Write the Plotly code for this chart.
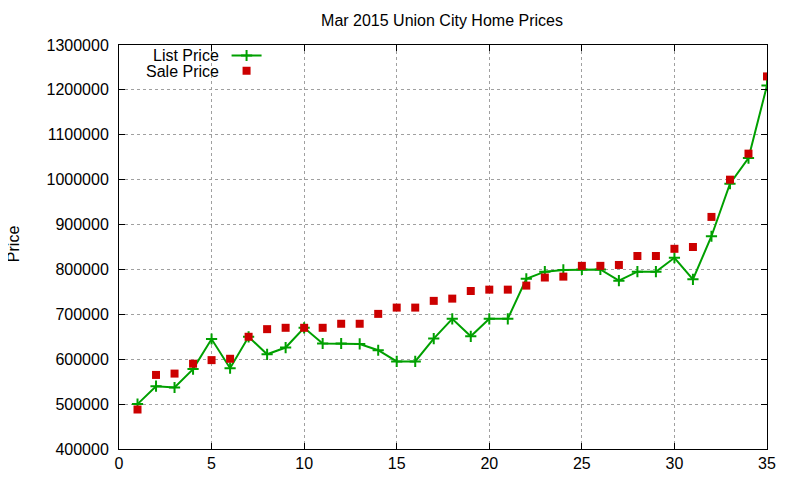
import plotly.graph_objects as go

# Mar 2015 Union City home sales, sorted by sale price
house = list(range(1, 36))
list_price = [500000, 540000, 537000, 578000, 645000, 580000, 650000, 611000, 626000, 670000,
              635000, 635000, 634000, 620000, 595000, 595000, 646000, 690000, 651000, 690000,
              690000, 779000, 795000, 799000, 800000, 800000, 775000, 795000, 795000, 826000,
              778000, 874000, 991000, 1048000, 1210000]
sale_price = [488000, 565000, 568000, 590000, 598000, 601000, 650000, 667000, 670000, 670000,
              670000, 679000, 679000, 701000, 715000, 715000, 730000, 735000, 752000, 755000,
              755000, 764000, 782000, 784000, 808000, 808000, 810000, 830000, 830000, 846000,
              850000, 917000, 1000000, 1058000, 1230000]

font = "Liberation Sans, Arial, sans-serif"

fig = go.Figure()
fig.add_trace(go.Scatter(x=house, y=list_price, mode="lines+markers", name=" ", legend="legend",
                         line=dict(color="#00a000", width=2),
                         marker=dict(symbol="cross-thin", size=8, line=dict(color="#00a000", width=2))))
fig.add_trace(go.Scatter(x=house, y=sale_price, mode="markers", name=" ", legend="legend2",
                         marker=dict(symbol="square", size=8, color="#cc0000")))

axis_style = dict(showline=True, linecolor="black", linewidth=1, mirror="allticks",
                  ticks="inside", ticklen=6, tickcolor="black",
                  showgrid=True, gridcolor="#a0a0a0", griddash="dot", gridwidth=1,
                  zeroline=False, tickfont=dict(family=font, size=16, color="black"))

fig.update_xaxes(range=[0, 35], dtick=5, **axis_style)
fig.update_yaxes(range=[400000, 1300000], dtick=100000, tickformat="d",
                 ticklabelstandoff=6, **axis_style)

# gnuplot style key: text on the left, sample on the right -> one legend per row
key = dict(xanchor="left", yanchor="middle", bgcolor="rgba(0,0,0,0)",
           font=dict(family=font, size=12, color="black"))

# page body adds ~8px offset, so margins are shifted to compensate
fig.update_layout(
    width=800, height=480,
    margin=dict(l=111, r=41, t=37, b=39),
    paper_bgcolor="white", plot_bgcolor="white",
    title=dict(text="Mar 2015 Union City Home Prices", x=0.5425, y=0.975, xanchor="center",
               yanchor="middle", font=dict(family=font, size=16, color="black")),
    showlegend=True,
    legend=dict(x=0.166, y=0.974, **key),
    legend2=dict(x=0.166, y=0.936, **key),
    annotations=[
        dict(text="Price", textangle=-90, x=-0.163, y=0.508, xref="paper", yref="paper",
             xanchor="center", yanchor="middle", borderpad=0,
             showarrow=False, font=dict(family=font, size=16, color="black")),
        dict(text="List Price", x=0.157, y=0.974, xref="paper", yref="paper", xanchor="right",
             yanchor="middle", showarrow=False, font=dict(family=font, size=16, color="black")),
        dict(text="Sale Price", x=0.157, y=0.934, xref="paper", yref="paper", xanchor="right",
             yanchor="middle", showarrow=False, font=dict(family=font, size=16, color="black")),
    ],
)

fig.write_html("out.html")
